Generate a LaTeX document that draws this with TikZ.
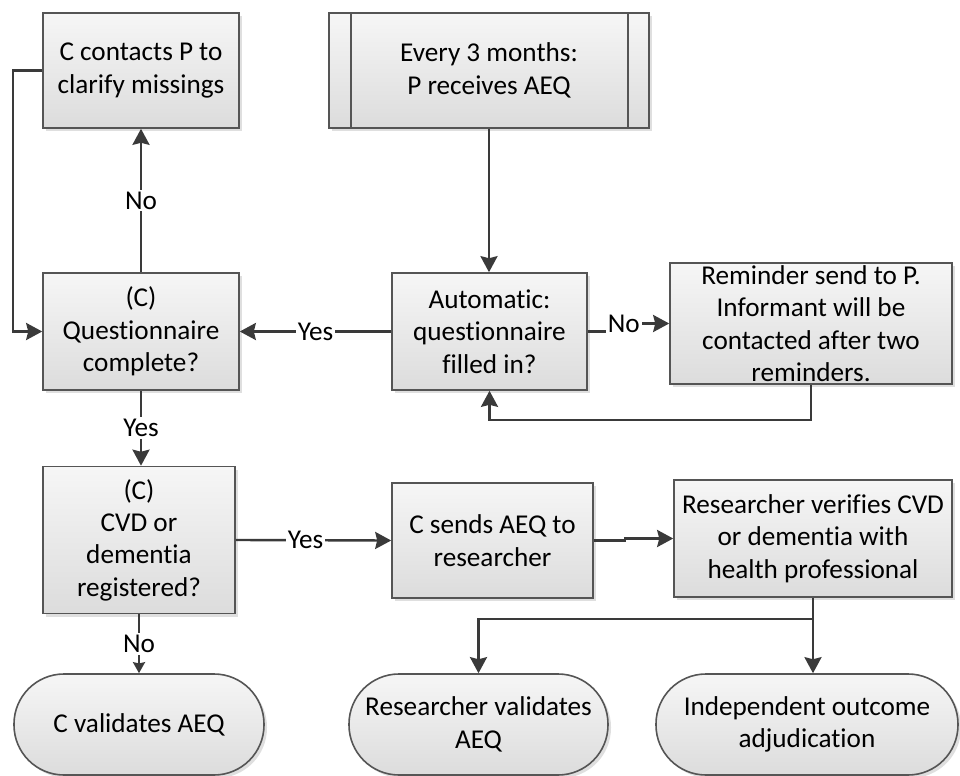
\documentclass[tikz,border=0pt]{standalone}
\usepackage{fontspec}
\setmainfont{Carlito}[Ligatures=NoCommon]
\usetikzlibrary{arrows.meta,shadows,calc}
\definecolor{linec}{HTML}{3A3A3A}
\definecolor{bordc}{HTML}{555555}
\definecolor{topc}{HTML}{F6F6F6}
\definecolor{botc}{HTML}{DCDCDC}
\tikzset{
  boxstyle/.style={draw=bordc, line width=0.8pt, top color=topc, bottom color=botc,
    drop shadow={shadow xshift=1.5pt, shadow yshift=-1.5pt, opacity=0.25},
    align=center, inner sep=0pt, font=\fontsize{13.6}{16.2}\selectfont, text=black},
  termstyle/.style={boxstyle, rounded corners=25pt},
  arr/.style={draw=linec, line width=1.2pt, -{Stealth[length=8pt,width=8.5pt,inset=1pt]}},
  smallarr/.style={draw=linec, line width=1.2pt, -{Stealth[length=5.5pt,width=6pt,inset=0.6pt]}},
  lbl/.style={fill=white, inner sep=1pt, font=\fontsize{13.6}{16.2}\selectfont, text=black},
}
\begin{document}
\begin{tikzpicture}[x=0.5pt, y=-0.5pt]
\useasboundingbox (0,0) rectangle (960,776);
% process boxes
\node[boxstyle, minimum width=98pt, minimum height=57.5pt] (A) at (141,70.5) {C contacts P to\\clarify missings};
\node[boxstyle, minimum width=160pt, minimum height=57.5pt] (B) at (489,70.5) {Every 3 months:\\P receives AEQ};
\draw[draw=bordc, line width=0.8pt] ([xshift=11.5pt]B.north west) -- ([xshift=11.5pt]B.south west)
  ([xshift=-11pt]B.north east) -- ([xshift=-11pt]B.south east);
\node[boxstyle, minimum width=98pt, minimum height=58.5pt] (Q) at (141,331.5) {(C)\\Questionnaire\\complete?};
\node[boxstyle, minimum width=97.5pt, minimum height=58.5pt] (Auto) at (489.5,331.5) {Automatic:\\questionnaire\\filled in?};
\node[boxstyle, minimum width=141pt, minimum height=60.5pt] (Rem) at (811,323.5) {Reminder send to P.\\Informant will be\\contacted after two\\reminders.};
\node[boxstyle, minimum width=96pt, minimum height=73.5pt] (CVD) at (139,540) {(C)\\CVD or\\dementia\\registered?};
\node[boxstyle, minimum width=100.5pt, minimum height=57.5pt] (Send) at (492.5,540.5) {C sends AEQ to\\researcher};
\node[boxstyle, minimum width=139pt, minimum height=58.5pt] (Ver) at (813,538.5) {Researcher verifies CVD\\or dementia with\\health professional};
% terminals
\node[termstyle, minimum width=125pt, minimum height=50.5pt] (T1) at (139,724.5) {C validates AEQ};
\node[termstyle, minimum width=129.5pt, minimum height=50.5pt] (T2) at (478.5,724.5) {Researcher validates\\AEQ};
\node[termstyle, minimum width=151pt, minimum height=50.5pt] (T3) at (807,724.5) {Independent outcome\\adjudication};
% connectors
\draw[arr] (Q.north) -- node[lbl]{No} (Q.north |- A.south);
\draw[arr] (A.west) -- ++(-29,0) |- (Q.west);
\draw[arr] (B.south) -- (B.south |- Auto.north);
\draw[arr] (Auto.west) -- node[lbl]{Yes} (Q.east);
\draw[arr] (Auto.east) -- ++(36,0) |- (Rem.west) node[lbl, pos=0.5]{No};
\draw[arr] (Rem.south) -- ++(0,35) -| (Auto.south);
\draw[arr] (Q.south) -- node[lbl]{Yes} (Q.south |- CVD.north);
\draw[arr] (CVD.east) -- node[lbl, xshift=-4pt]{Yes} (Send.west);
\draw[arr] (Send.east) -- ++(31,0) |- (Ver.west);
\draw[smallarr] (CVD.south) -- node[lbl]{No} (CVD.south |- T1.north);
\draw[arr] (Ver.south) -- (Ver.south |- T3.north);
\draw[arr] (Ver.south) -- ++(0,21) -| (T2.north);
\end{tikzpicture}
\end{document}
